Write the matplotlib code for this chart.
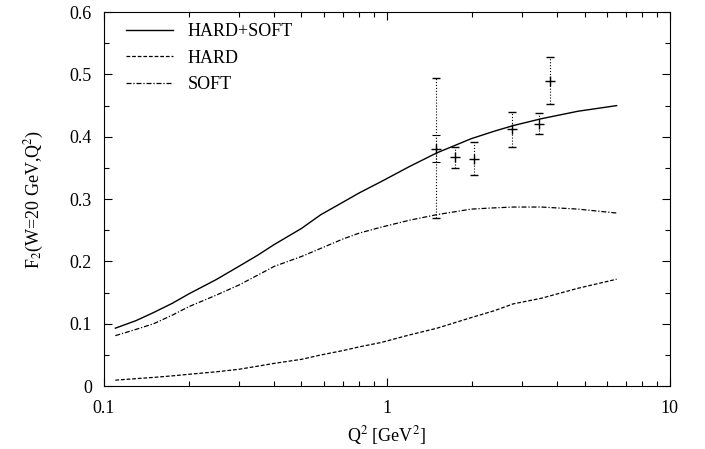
import numpy as np
import matplotlib
matplotlib.use('Agg')
import matplotlib.pyplot as plt
from matplotlib.ticker import FixedLocator, LogLocator, NullFormatter, MultipleLocator

plt.rcParams['font.family'] = ['Liberation Serif', 'DejaVu Serif']
plt.rcParams['mathtext.fontset'] = 'stix'

# curves
q2_curve = [0.110, 0.130, 0.150, 0.175, 0.20, 0.25, 0.30, 0.35, 0.40, 0.50, 0.585, 0.70, 0.80, 0.955,
            1.20, 1.50, 1.99, 2.40, 2.80, 3.52, 4.74, 6.49]
hard_soft = [0.093, 0.105, 0.118, 0.133, 0.148, 0.171, 0.192, 0.210, 0.227, 0.253, 0.275, 0.295, 0.310, 0.328,
             0.352, 0.374, 0.397, 0.409, 0.418, 0.429, 0.441, 0.450]
soft = [0.081, 0.091, 0.100, 0.114, 0.1275, 0.146, 0.162, 0.178, 0.192, 0.208, 0.221, 0.236, 0.2455, 0.255,
        0.266, 0.275, 0.284, 0.286, 0.2873, 0.2873, 0.284, 0.2777]
hard = [0.0096, 0.012, 0.014, 0.0165, 0.019, 0.023, 0.027, 0.032, 0.0365, 0.043, 0.050, 0.057, 0.063, 0.070,
        0.082, 0.0927, 0.110, 0.121, 0.132, 0.141, 0.157, 0.1715]

# data points
q2_data = [1.49, 1.74, 2.03, 2.77, 3.46, 3.79]
f2_data = [0.381, 0.367, 0.365, 0.412, 0.420, 0.490]
err_lo = [0.269, 0.350, 0.339, 0.384, 0.404, 0.452]
err_hi = [0.494, 0.384, 0.392, 0.440, 0.4375, 0.528]
# inner bar on the first point
q2_inner = [1.49]
f2_inner = [0.381]
inner_lo = [0.360]
inner_hi = [0.403]

x_ticks = [0.1, 1, 10]
x_labels = ['0.1', '1', '10']
y_ticks = [0, 0.1, 0.2, 0.3, 0.4, 0.5, 0.6]
y_labels = ['0', '0.1', '0.2', '0.3', '0.4', '0.5', '0.6']

fig = plt.figure(figsize=(7.05, 4.49), dpi=100)
ax = fig.add_axes([0.147, 0.140, 0.803, 0.833])

ax.plot(q2_curve, hard_soft, '-k', lw=1.0, label='HARD+SOFT')
ax.plot(q2_curve, hard, color='k', lw=0.9, linestyle=(0, (3, 1.5)), label='HARD')
ax.plot(q2_curve, soft, color='k', lw=0.9, linestyle=(0, (4, 1.5, 1, 1.5)), label='SOFT')

f = np.array(f2_data)
yerr = [f - np.array(err_lo), np.array(err_hi) - f]
eb = ax.errorbar(q2_data, f2_data, yerr=yerr, fmt='+', color='k', ms=7, mew=1.0,
                 ecolor='k', elinewidth=0.8, capsize=3, capthick=0.8)
for c in eb[2]:
    c.set_linestyle(':')
fi = np.array(f2_inner)
yerr_i = [fi - np.array(inner_lo), np.array(inner_hi) - fi]
eb2 = ax.errorbar(q2_inner, f2_inner, yerr=yerr_i, fmt='none', ecolor='k',
                  elinewidth=0.8, capsize=3, capthick=0.8)
for c in eb2[2]:
    c.set_linestyle(':')

ax.set_xscale('log')
ax.set_xlim(0.1, 10)
ax.set_ylim(0, 0.6)
ax.xaxis.set_major_locator(FixedLocator(x_ticks))
ax.set_xticklabels(x_labels)
ax.xaxis.set_minor_locator(LogLocator(base=10, subs=np.arange(2, 10)))
ax.xaxis.set_minor_formatter(NullFormatter())
ax.yaxis.set_major_locator(FixedLocator(y_ticks))
ax.set_yticklabels(y_labels)
ax.yaxis.set_minor_locator(MultipleLocator(0.05))
ax.tick_params(which='both', direction='in', top=True, right=True, labelsize=13)
ax.tick_params(which='major', length=6, width=0.8)
ax.tick_params(which='minor', length=3.5, width=0.8)
ax.tick_params(axis='x', pad=10)
ax.tick_params(axis='y', pad=8.5)

ax.set_xlabel(r'Q$^2$ [GeV$^2$]', fontsize=13, labelpad=5)
ax.set_ylabel(r'F$_2$(W=20 GeV,Q$^2$)', fontsize=13, labelpad=17)

ax.legend(loc='upper left', bbox_to_anchor=(22 / 566, 0.97), frameon=False, fontsize=13,
          handlelength=2.6, handletextpad=0.83, labelspacing=0.52,
          borderaxespad=0, borderpad=0)

plt.savefig('out.png')
